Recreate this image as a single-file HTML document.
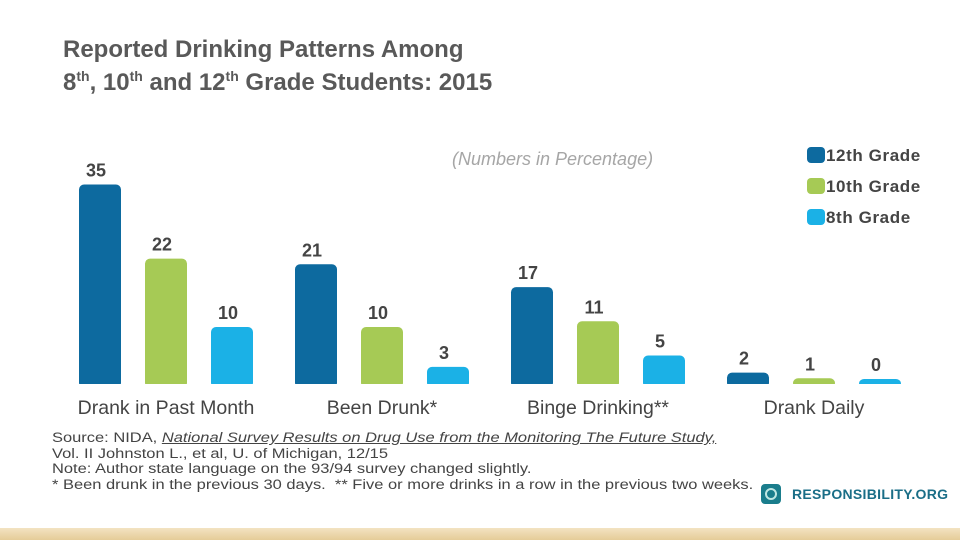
<!DOCTYPE html>
<html><head><meta charset="utf-8"><style>
body{margin:0;width:960px;height:540px;overflow:hidden;background:#fff;font-family:"Liberation Sans",sans-serif;position:relative}
.t{position:absolute;white-space:nowrap}
</style></head><body>
<div class="t" style="left:63px;top:33px;font-size:24px;font-weight:bold;color:#595959;line-height:33px">Reported Drinking Patterns Among<br>8<sup style="font-size:14px;line-height:0">th</sup>, 10<sup style="font-size:14px;line-height:0">th</sup> and 12<sup style="font-size:14px;line-height:0">th</sup> Grade Students: 2015</div>
<div class="t" style="left:452px;top:149px;font-size:18px;font-style:italic;color:#a6a6a6">(Numbers in Percentage)</div>
<svg id="c" width="960" height="540" style="position:absolute;left:0;top:0"></svg>
<div class="t" style="left:52px;top:430px;font-size:13.5px;color:#444;line-height:15.5px;transform:scaleX(1.22);transform-origin:0 0">Source: NIDA, <i><u>National Survey Results on Drug Use from the Monitoring The Future Study,</u></i><br>Vol. II Johnston L., et al, U. of Michigan, 12/15<br>Note: Author state language on the 93/94 survey changed slightly.<br>* Been drunk in the previous 30 days.&nbsp; ** Five or more drinks in a row in the previous two weeks.</div>
<div style="position:absolute;left:761px;top:484px;width:20px;height:20px;border-radius:4px;background:#1a7d8c"><div style="position:absolute;left:4px;top:4px;width:8px;height:8px;border:2px solid #bfe7e3;border-radius:50%"></div></div>
<div class="t" style="left:792px;top:486px;font-size:14px;font-weight:bold;color:#1a6e87;letter-spacing:0.3px">RESPONSIBILITY.ORG</div>
<div style="position:absolute;left:0;top:528px;width:960px;height:12px;background:linear-gradient(#f3e3c2,#e5cc98)"></div>
<script>
const categories=["Drank in Past Month","Been Drunk*","Binge Drinking**","Drank Daily"];
const series=["12th Grade","10th Grade","8th Grade"];
const grade12=[35,21,17,2];
const grade10=[22,10,11,1];
const grade8=[10,3,5,0];
const colors=["#0d6a9f","#a6ca55","#1bb1e6"];
const svg=document.getElementById('c');const NS="http://www.w3.org/2000/svg";
const base=384,scale=5.7,gx0=79,gStep=216,bStep=66,bw=42;
const y=v=>base-Math.max(v*scale,5);
const vals=[grade12,grade10,grade8];
function mk(tag,attrs){const e=document.createElementNS(NS,tag);for(const k in attrs)e.setAttribute(k,attrs[k]);svg.appendChild(e);return e;}
categories.forEach((cat,i)=>{
 vals.forEach((arr,s)=>{
  const x=gx0+i*gStep+s*bStep,top=y(arr[i]),h=base-top;
  const r=mk('rect',{x:x,y:top,width:bw,height:h+4,rx:5,fill:colors[s]});
  
  
  const t=mk('text',{x:x+bw/2-4,y:top-8,'text-anchor':'middle','font-size':18,'font-weight':'bold',fill:'#444','font-family':'Liberation Sans'});
  t.textContent=arr[i];
  
  
 });
 const c=mk('text',{x:gx0+i*gStep+bStep+bw/2,y:414,'text-anchor':'middle','font-size':19.5,fill:'#444','font-family':'Liberation Sans'});
 c.textContent=cat;
 
 
});
mk('rect',{x:0,y:base,width:960,height:6,fill:'#fff'});
series.forEach((s,i)=>{
 const r=mk('rect',{x:807,y:147+i*31,width:18,height:16,rx:4,fill:colors[i]});
 
 
 const t=mk('text',{x:826,y:161+i*31,'font-size':17,'font-weight':'bold',fill:'#444','font-family':'Liberation Sans','letter-spacing':'0.6'});
 t.textContent=s;
 
 
});
</script>
</body></html>
